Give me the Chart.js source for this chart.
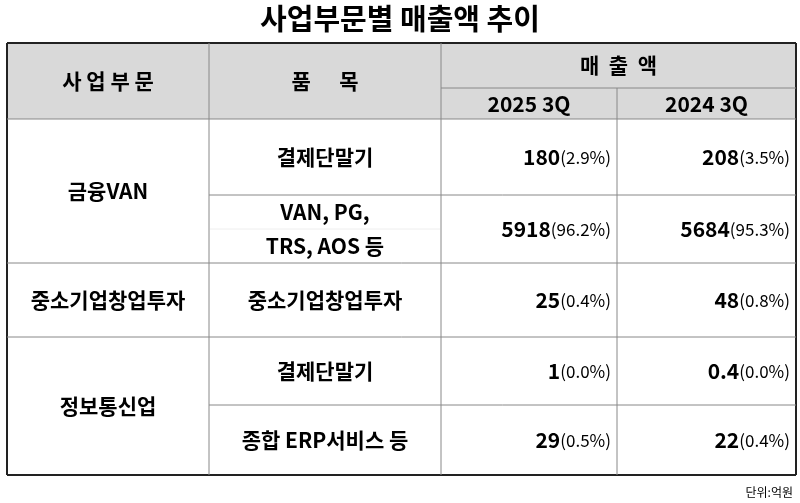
<!DOCTYPE html><html><head><meta charset="utf-8">
<script src="https://cdn.jsdelivr.net/npm/chart.js@4/dist/chart.umd.min.js"></script>
<style>html,body{margin:0;background:#fff}#w{width:800px;height:503px}</style></head><body><div id="w"><canvas id="c"></canvas></div>
<script>
const title = "사업부문별 매출액 추이";
const periods = ["2025 3Q", "2024 3Q"];
const segments = ["금융VAN", "중소기업창업투자", "정보통신업"];
const items = ["결제단말기", "VAN, PG,|TRS, AOS 등", "중소기업창업투자", "결제단말기", "종합 ERP서비스 등"];
const sales2025 = ["180", "5918", "25", "1", "29"];
const share2025 = ["2.9%", "96.2%", "0.4%", "0.0%", "0.5%"];
const sales2024 = ["208", "5684", "48", "0.4", "22"];
const share2024 = ["3.5%", "95.3%", "0.8%", "0.0%", "0.4%"];
const unitNote = "단위:억원";

const F = '"Noto Sans CJK KR", "Noto Sans", sans-serif';
const cols = [7, 209, 441, 617, 796];
const hTop = 43, hMid = 88, hBot = 119;
const rowY = [119, 195, 263, 337, 405, 475];
const segRows = [[0, 2], [2, 3], [3, 5]];

const tablePlugin = {
  id: 'table',
  afterDraw(chart) {
    const c = chart.ctx;
    c.save();
    c.fillStyle = '#d9d9d9';
    c.fillRect(cols[0], hTop, cols[4] - cols[0], hBot - hTop);
    c.fillStyle = '#000';
    c.textAlign = 'center'; c.textBaseline = 'middle';
    c.font = 'bold 29px ' + F;
    c.fillText(title, 400, 19);
    const line = (x1, y1, x2, y2, col, w) => { c.strokeStyle = col; c.lineWidth = w; c.beginPath(); c.moveTo(x1, y1); c.lineTo(x2, y2); c.stroke(); };
    c.font = 'bold 21px ' + F;
    c.fillText("사 업 부 문", (cols[0] + cols[1]) / 2, (hTop + hBot) / 2);
    c.fillText("품      목", (cols[1] + cols[2]) / 2, (hTop + hBot) / 2);
    c.fillText("매  출  액", (cols[2] + cols[4]) / 2, (hTop + hMid) / 2);
    periods.forEach((p, i) => c.fillText(p, (cols[2 + i] + cols[3 + i]) / 2, (hMid + hBot) / 2 + 1));
    segments.forEach((s, i) => {
      const [a, b] = segRows[i];
      c.fillText(s, (cols[0] + cols[1]) / 2, (rowY[a] + rowY[b]) / 2);
    });
    items.forEach((it, i) => {
      const yc = (rowY[i] + rowY[i + 1]) / 2;
      const parts = it.split('|');
      c.font = 'bold 21px ' + F; c.textAlign = 'center';
      if (parts.length === 2) {
        c.fillText(parts[0], (cols[1] + cols[2]) / 2, yc - 17);
        c.fillText(parts[1], (cols[1] + cols[2]) / 2, yc + 17);
        line(cols[1] + 1, yc, cols[2] - 1, yc, '#eeeeee', 1);
      } else c.fillText(it, (cols[1] + cols[2]) / 2, yc);
      [[sales2025, share2025, cols[3]], [sales2024, share2024, cols[4]]].forEach(([v, s, xr]) => {
        c.textAlign = 'right';
        c.font = '17px ' + F;
        const sp = '(' + s[i] + ')';
        const sw = c.measureText(sp).width;
        c.fillText(sp, xr - 6, yc + 1);
        c.font = 'bold 21px ' + F;
        c.fillText(v[i], xr - 6 - sw, yc);
      });
    });
    line(cols[0], hTop, cols[4], hTop, '#222', 2);
    line(cols[0], rowY[5], cols[4], rowY[5], '#222', 2);
    line(cols[0], hTop, cols[0], rowY[5], '#222', 2);
    line(cols[4], hTop, cols[4], rowY[5], '#222', 2);
    line(cols[0], hBot, cols[4], hBot, '#888', 1.2);
    line(cols[2], hMid, cols[4], hMid, '#888', 1);
    [1, 2].forEach(k => line(cols[k], hTop, cols[k], rowY[5], '#888', 1));
    line(cols[3], hMid, cols[3], rowY[5], '#888', 1);
    [2, 3].forEach(r => line(cols[0], rowY[r], cols[4], rowY[r], '#888', 1));
    [1, 4].forEach(r => line(cols[1], rowY[r], cols[4], rowY[r], '#888', 1));
    c.fillStyle = '#000';
    c.textAlign = 'right'; c.font = '12px ' + F;
    c.fillText(unitNote, 793, 492);
    c.restore();
  }
};
new Chart(document.getElementById('c'), {
  type: 'bar',
  data: { labels: items, datasets: [{ data: [], backgroundColor: 'transparent' }] },
  options: { responsive: true, maintainAspectRatio: false, animation: false,
    plugins: { legend: { display: false }, tooltip: { enabled: false } },
    scales: { x: { display: false }, y: { display: false } } },
  plugins: [tablePlugin]
});
</script></body></html>
